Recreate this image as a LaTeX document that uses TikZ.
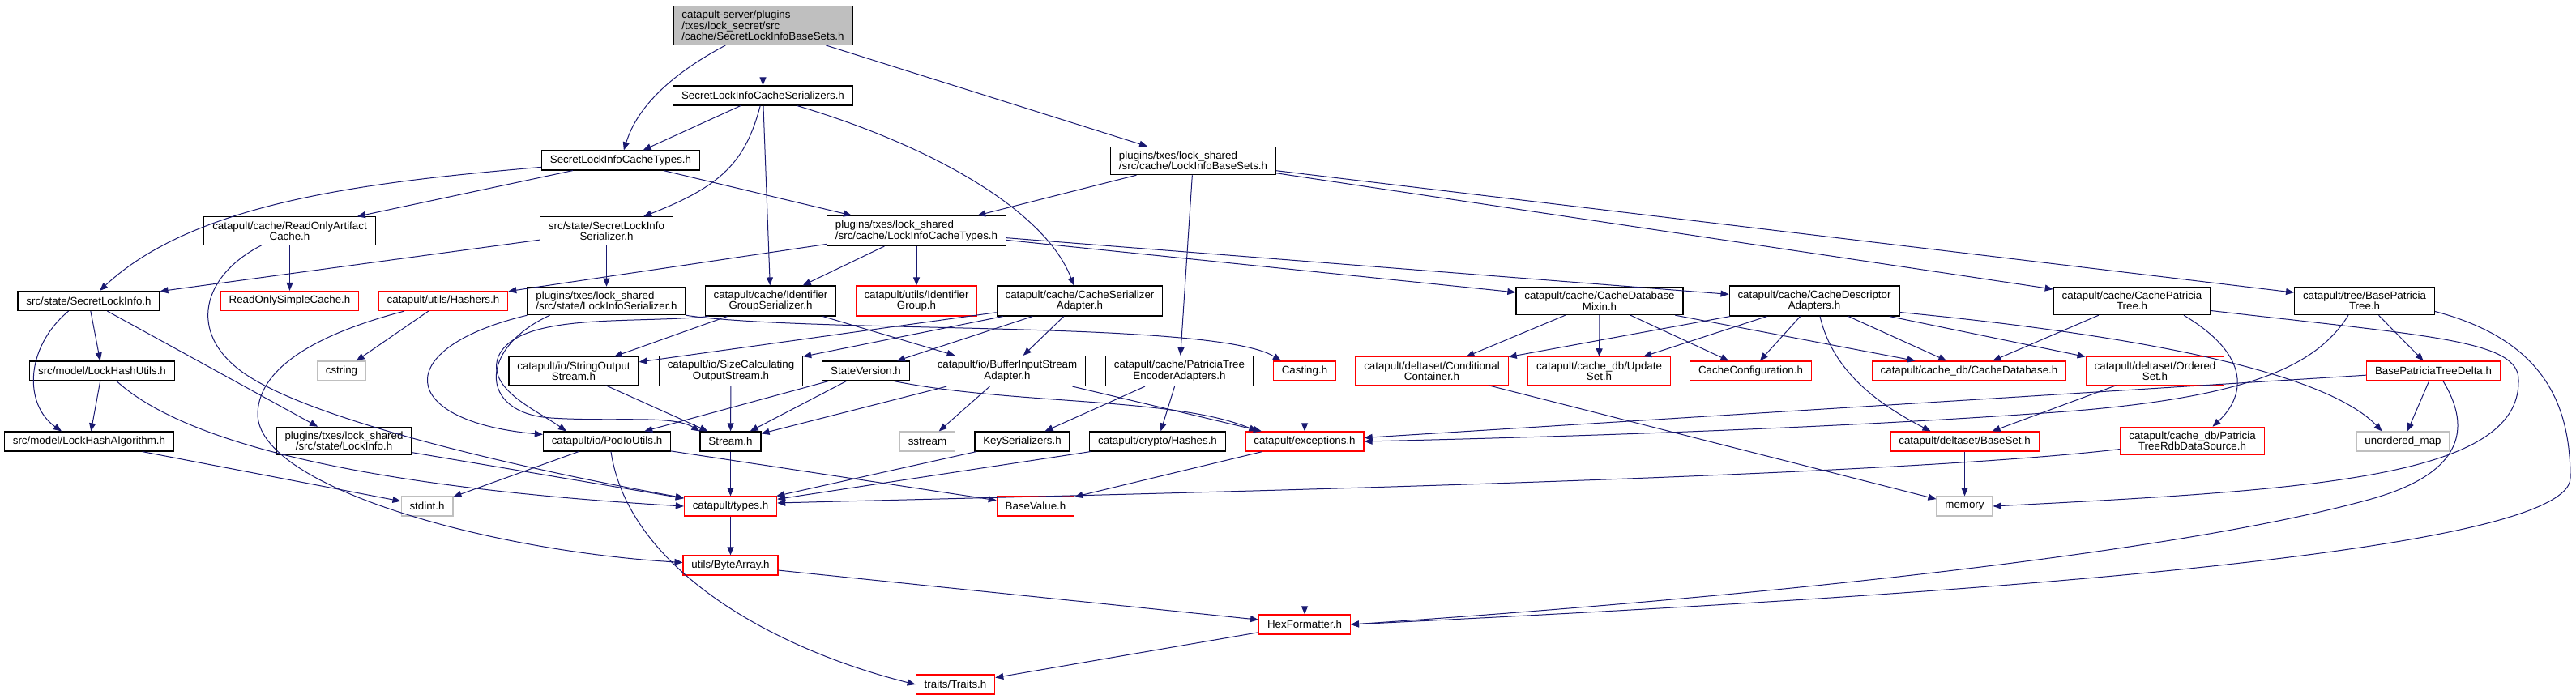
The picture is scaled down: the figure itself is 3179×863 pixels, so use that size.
\documentclass[tikz,border=0pt]{standalone}
\usepackage{fontspec}
\setmainfont{Liberation Sans}
\usetikzlibrary{arrows.meta,calc}
\definecolor{dxblue}{HTML}{191970}
\definecolor{dxgrey}{HTML}{BFBFBF}
\definecolor{dxred}{HTML}{FF0000}
\tikzset{
  hdr/.style={draw=black,fill=white,line width=0.9pt,align=center,
              font=\fontsize{10pt}{10pt}\selectfont,inner xsep=7.8pt,
              inner ysep=4.2pt,minimum height=18pt},
  hdrl/.style={hdr,align=left},
  trunc/.style={hdr,draw=dxred},
  sysfile/.style={hdr,draw=dxgrey},
  rootfile/.style={hdrl,fill=dxgrey},
  dep/.style={dxblue,line width=0.75pt,-{Triangle[length=7.5pt,width=6pt]}},
}
\begin{document}
\begin{tikzpicture}[x=0.75pt,y=0.75pt]
  \useasboundingbox (0,0) rectangle (3179,-863);
  \node[rootfile] (root) at (941.5,-31.5) {catapult-server/plugins\\/txes/lock\_secret/src\\/cache/SecretLockInfoBaseSets.h};
  \node[hdr] (slics) at (941.5,-118) {SecretLockInfoCacheSerializers.h};
  \node[hdr] (slict) at (766,-198) {SecretLockInfoCacheTypes.h};
  \node[hdrl] (libs) at (1472.5,-198.5) {plugins/txes/lock\_shared\\/src/cache/LockInfoBaseSets.h};
  \node[hdr] (roac) at (357.5,-285) {catapult/cache/ReadOnlyArtifact\\Cache.h};
  \node[hdr] (slis) at (748.5,-285) {src/state/SecretLockInfo\\Serializer.h};
  \node[hdrl] (lict) at (1131,-285) {plugins/txes/lock\_shared\\/src/cache/LockInfoCacheTypes.h};
  \node[hdr] (sli) at (109.5,-371.5) {src/state/SecretLockInfo.h};
  \node[trunc] (rosc) at (357.5,-371.5) {ReadOnlySimpleCache.h};
  \node[trunc] (hashers) at (547,-371.5) {catapult/utils/Hashers.h};
  \node[hdrl] (lis) at (748.5,-371.5) {plugins/txes/lock\_shared\\/src/state/LockInfoSerializer.h};
  \node[hdr] (idgs) at (951,-371.5) {catapult/cache/Identifier\\GroupSerializer.h};
  \node[trunc] (idgrp) at (1131,-371.5) {catapult/utils/Identifier\\Group.h};
  \node[hdr] (csa) at (1332.5,-371.5) {catapult/cache/CacheSerializer\\Adapter.h};
  \node[hdr] (cdm) at (1974,-371.5) {catapult/cache/CacheDatabase\\Mixin.h};
  \node[hdr] (cda) at (2239,-371.5) {catapult/cache/CacheDescriptor\\Adapters.h};
  \node[hdr] (cpt) at (2631,-371.5) {catapult/cache/CachePatricia\\Tree.h};
  \node[hdr] (bpt) at (2918,-371.5) {catapult/tree/BasePatricia\\Tree.h};
  \node[hdr] (lhu) at (126,-458) {src/model/LockHashUtils.h};
  \node[sysfile] (cstring) at (421.5,-458) {cstring};
  \node[hdr] (sos) at (708,-458) {catapult/io/StringOutput\\Stream.h};
  \node[hdr] (scos) at (902,-458) {catapult/io/SizeCalculating\\OutputStream.h};
  \node[hdr] (stver) at (1068.5,-458) {StateVersion.h};
  \node[hdr] (bisa) at (1243,-458) {catapult/io/BufferInputStream\\Adapter.h};
  \node[hdr] (ptea) at (1455.5,-458) {catapult/cache/PatriciaTree\\EncoderAdapters.h};
  \node[trunc] (casting) at (1610,-458) {Casting.h};
  \node[trunc] (condc) at (1767,-458) {catapult/deltaset/Conditional\\Container.h};
  \node[trunc] (updset) at (1973.5,-458) {catapult/cache\_db/Update\\Set.h};
  \node[trunc] (cconf) at (2160.5,-458) {CacheConfiguration.h};
  \node[trunc] (cachedb) at (2430,-458) {catapult/cache\_db/CacheDatabase.h};
  \node[trunc] (ordset) at (2659.5,-458) {catapult/deltaset/Ordered\\Set.h};
  \node[trunc] (bptd) at (3003,-458) {BasePatriciaTreeDelta.h};
  \node[hdr] (lha) at (110,-545) {src/model/LockHashAlgorithm.h};
  \node[hdr] (lockinfo) at (424.5,-544.5) {plugins/txes/lock\_shared\\/src/state/LockInfo.h};
  \node[hdr] (podio) at (749,-545) {catapult/io/PodIoUtils.h};
  \node[hdr] (stream) at (901.5,-545) {Stream.h};
  \node[sysfile] (sstream) at (1144.5,-545) {sstream};
  \node[hdr] (keyser) at (1261.5,-545) {KeySerializers.h};
  \node[hdr] (hashes) at (1428.5,-545) {catapult/crypto/Hashes.h};
  \node[trunc] (excep) at (1610,-545) {catapult/exceptions.h};
  \node[trunc] (baseset) at (2424.5,-545) {catapult/deltaset/BaseSet.h};
  \node[trunc] (ptrds) at (2705.5,-544.5) {catapult/cache\_db/Patricia\\TreeRdbDataSource.h};
  \node[sysfile] (umap) at (2965.5,-545) {unordered\_map};
  \node[sysfile] (stdint) at (527,-625) {stdint.h};
  \node[trunc] (types) at (901.5,-625) {catapult/types.h};
  \node[trunc] (baseval) at (1278,-625) {BaseValue.h};
  \node[sysfile] (memory) at (2424.5,-625) {memory};
  \node[trunc] (bytearr) at (901.5,-698) {utils/ByteArray.h};
  \node[trunc] (hexfmt) at (1610,-771) {HexFormatter.h};
  \node[trunc] (traits) at (1179,-845) {traits/Traits.h};

  \foreach \a/\b in {root/slics,root/libs,slics/slict,slics/idgs,slict/roac,slict/lict,
      libs/lict,libs/ptea,libs/cpt,libs/bpt,roac/rosc,slis/sli,slis/lis,lict/hashers,
      lict/idgs,lict/idgrp,lict/cdm,lict/cda,sli/lhu,sli/lockinfo,hashers/cstring,
      idgs/sos,idgs/bisa,csa/sos,csa/scos,csa/stver,csa/bisa,cdm/condc,cdm/updset,
      cdm/cconf,cdm/cachedb,cda/condc,cda/updset,cda/cconf,cda/cachedb,cda/ordset,
      cpt/cachedb,bpt/bptd,lhu/lha,sos/stream,scos/stream,stver/podio,stver/stream,
      bisa/stream,bisa/sstream,bisa/excep,ptea/keyser,ptea/hashes,casting/excep,
      ordset/baseset,bptd/excep,bptd/umap,lha/stdint,lockinfo/types,podio/stdint,
      podio/baseval,stream/types,keyser/types,hashes/types,excep/baseval,excep/hexfmt,
      condc/memory,baseset/memory,types/bytearr,bytearr/hexfmt,hexfmt/traits}
    {\draw[dep] (\a) -- (\b);}

  \draw[dep] (root) .. controls (850,-80) and (790,-120) .. (slict);
  \draw[dep] (slics) .. controls (920,-200) and (890,-230) .. (slis);
  \draw[dep] (slics) .. controls (1150,-180) and (1290,-260) .. (csa);
  \draw[dep] (slict) .. controls (450,-225) and (240,-250) .. (sli);
  \draw[dep] (roac) .. controls (250,-340) and (230,-410) .. (300,-460)
    .. controls (385,-520) and (650,-580) .. (types);
  \draw[dep] (hashers) .. controls (400,-410) and (320,-450) .. (318,-510)
    .. controls (316,-600) and (600,-680) .. (bytearr);
  \draw[dep] ($(sli.south)+(-25,0)$) .. controls (30,-430) and (30,-500) .. ($(lha.north)+(-34,0)$);
  \draw[dep] (lis.south west) .. controls (480,-430) and (490,-520) .. ($(podio.north west)+(0,-4)$);
  \draw[dep] ($(lis.south)+(-70,0)$) .. controls (590,-430) and (590,-510) .. (680,-516)
    .. controls (760,-521) and (830,-512) .. (stream.north west);
  \draw[dep] ($(idgs.south west)+(5,0)$) .. controls (780,-400) and (640,-385) .. (615,-440)
    .. controls (600,-480) and (660,-505) .. ($(podio.north)+(-50,0)$);
  \draw[dep] (lis.south east) .. controls (1000,-412) and (1500,-395) .. ($(casting.north west)+(10,0)$);
  \draw[dep] ($(stver.south)+(35,0)$) .. controls (1250,-500) and (1450,-490) .. ($(excep.north west)+(15,0)$);
  \draw[dep] ($(bpt.south)+(-20,0)$) .. controls (2860,-450) and (2780,-490) .. (2550,-508)
    .. controls (2250,-530) and (1900,-540) .. (excep.east);
  \draw[dep] ($(bpt.east)+(0,-13)$) .. controls (3140,-420) and (3172,-500) .. (3172,-590)
    .. controls (3172,-690) and (2300,-740) .. (hexfmt.east);
  \draw[dep] ($(bptd.south)+(12,0)$) .. controls (3045,-520) and (3050,-580) .. (2930,-615)
    .. controls (2700,-680) and (2200,-735) .. (hexfmt.east);
  \draw[dep] ($(cpt.east)+(0,-12)$) .. controls (3000,-415) and (3110,-420) .. (3108,-470)
    .. controls (3110,-590) and (2850,-605) .. (memory.east);
  \draw[dep] ($(cpt.south)+(64,0)$) .. controls (2780,-440) and (2770,-490) .. ($(ptrds.north)+(25,0)$);
  \draw[dep] ($(cda.south)+(7,0)$) .. controls (2262,-460) and (2320,-500) .. ($(baseset.north)+(-42,0)$);
  \draw[dep] ($(cda.east)+(0,-14)$) .. controls (2700,-420) and (2880,-470) .. ($(umap.north)+(-26,0)$);
  \draw[dep] ($(ptrds.west)+(0,-10)$) .. controls (2300,-592) and (1300,-612) .. ($(types.east)+(0,4)$);
  \draw[dep] ($(podio.south)+(5,0)$) .. controls (775,-700) and (950,-800) .. (traits.west);
  \draw[dep] ($(lhu.south)+(18,0)$) .. controls (220,-540) and (420,-600) .. (types.west);
\end{tikzpicture}
\end{document}
